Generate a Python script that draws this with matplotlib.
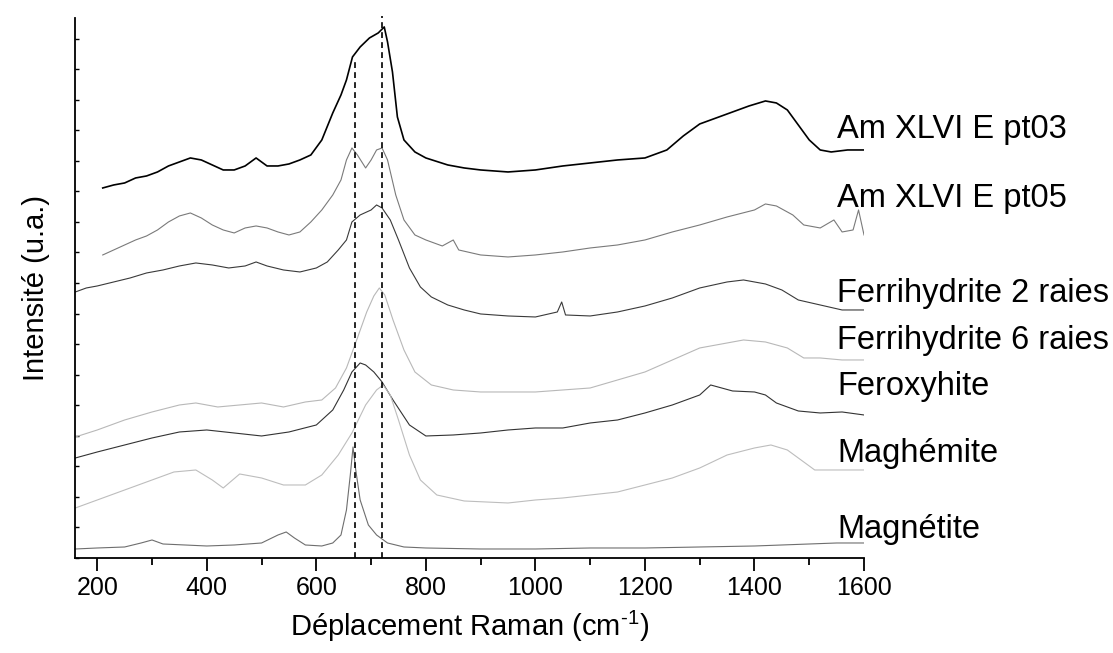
import matplotlib
matplotlib.use("Agg")
import matplotlib.pyplot as plt
from matplotlib.ticker import MultipleLocator

plt.rcParams['font.family'] = ['Liberation Sans', 'DejaVu Sans']
plt.rcParams['mathtext.fontset'] = 'custom'
plt.rcParams['mathtext.rm'] = 'Liberation Sans'
plt.rcParams['mathtext.it'] = 'Liberation Sans'
plt.rcParams['mathtext.default'] = 'regular'

# Spectra: Raman shift (cm-1) and intensity (arbitrary units, offset stacked)
pt03_x = [210, 230, 250, 270, 290, 310, 330, 350, 370, 390, 410, 430, 450, 470, 490, 510, 530, 550, 570, 590, 610, 630, 645, 655, 666, 680, 697, 713, 724, 730, 739, 748, 760, 780, 800, 840, 870, 900, 950, 1000, 1050, 1100, 1150, 1200, 1240, 1270, 1300, 1330, 1360, 1390, 1420, 1440, 1460, 1480, 1500, 1520, 1540, 1570, 1600]
pt03_y = [370, 373, 375, 380, 382, 386, 392, 396, 400, 398, 393, 388, 388, 392, 400, 392, 392, 394, 398, 403, 418, 445, 463, 478, 501, 511, 520, 525, 531, 516, 486, 441, 418, 406, 400, 393, 390, 388, 386, 388, 392, 395, 398, 400, 408, 422, 434, 440, 446, 452, 457, 455, 448, 433, 418, 408, 406, 408, 408]

pt05_x = [210, 230, 250, 270, 290, 310, 330, 350, 370, 390, 410, 430, 450, 470, 490, 510, 530, 550, 570, 590, 610, 630, 645, 655, 665, 675, 690, 700, 710, 720, 730, 745, 760, 780, 800, 830, 850, 860, 900, 950, 1000, 1050, 1100, 1150, 1200, 1250, 1300, 1350, 1400, 1420, 1440, 1470, 1490, 1520, 1545, 1560, 1580, 1590, 1600]
pt05_y = [303, 308, 313, 318, 322, 328, 336, 342, 345, 340, 333, 328, 325, 330, 332, 330, 326, 323, 326, 336, 348, 363, 378, 398, 410, 403, 390, 398, 408, 410, 398, 363, 338, 323, 318, 312, 318, 308, 303, 301, 303, 306, 310, 313, 318, 326, 333, 341, 348, 354, 352, 343, 333, 330, 338, 326, 328, 348, 323]

f2_x = [160, 180, 200, 230, 260, 290, 320, 350, 380, 410, 440, 470, 490, 510, 540, 570, 600, 620, 640, 655, 665, 680, 700, 710, 720, 735, 750, 770, 790, 810, 840, 870, 900, 950, 1000, 1040, 1048, 1055, 1100, 1150, 1200, 1250, 1300, 1350, 1380, 1420, 1450, 1480, 1520, 1560, 1600]
f2_y = [266, 270, 272, 276, 280, 285, 288, 292, 295, 293, 290, 292, 296, 292, 288, 286, 290, 296, 308, 318, 336, 343, 348, 353, 350, 338, 318, 290, 271, 261, 253, 248, 244, 242, 241, 246, 256, 243, 242, 246, 252, 260, 270, 276, 278, 274, 268, 258, 253, 248, 248]

f6_x = [160, 200, 250, 300, 350, 380, 420, 460, 500, 540, 580, 610, 635, 655, 675, 692, 705, 715, 725, 740, 760, 780, 810, 850, 900, 950, 1000, 1050, 1100, 1150, 1200, 1250, 1300, 1350, 1380, 1420, 1460, 1490, 1520, 1560, 1600]
f6_y = [121, 128, 138, 146, 153, 155, 151, 153, 155, 151, 156, 158, 170, 190, 220, 246, 262, 270, 263, 238, 208, 186, 173, 168, 166, 166, 166, 168, 170, 178, 186, 198, 210, 215, 218, 216, 210, 200, 200, 198, 198]

ferox_x = [160, 200, 250, 300, 350, 400, 450, 500, 550, 600, 630, 650, 665, 680, 690, 705, 720, 740, 770, 800, 850, 900, 950, 1000, 1050, 1100, 1150, 1200, 1250, 1300, 1320, 1360, 1400, 1420, 1440, 1480, 1520, 1560, 1600]
ferox_y = [100, 106, 113, 120, 126, 128, 125, 122, 126, 133, 148, 168, 186, 195, 193, 186, 176, 158, 133, 122, 123, 125, 128, 130, 130, 135, 138, 145, 153, 163, 173, 167, 166, 163, 155, 147, 145, 146, 143]

magh_x = [160, 200, 250, 300, 340, 380, 410, 430, 460, 500, 540, 580, 610, 640, 665, 690, 710, 722, 735, 750, 770, 790, 820, 870, 950, 1000, 1050, 1100, 1150, 1200, 1250, 1300, 1350, 1400, 1430, 1460, 1490, 1510, 1550, 1600]
magh_y = [50, 58, 68, 78, 86, 88, 78, 70, 84, 80, 73, 73, 83, 103, 125, 153, 168, 173, 163, 138, 103, 78, 63, 57, 55, 58, 60, 63, 66, 73, 80, 90, 103, 110, 113, 108, 96, 88, 88, 88]

magn_x = [160, 200, 250, 280, 300, 320, 400, 450, 500, 530, 545, 560, 580, 610, 630, 645, 655, 662, 667, 672, 680, 695, 710, 730, 760, 800, 900, 1000, 1100, 1200, 1300, 1400, 1500, 1550, 1600]
magn_y = [9, 10, 11, 15, 18, 14, 12, 13, 15, 23, 26, 20, 13, 12, 15, 23, 48, 83, 111, 88, 58, 33, 23, 15, 11, 10, 9, 9, 10, 10, 11, 12, 14, 15, 15]

series_names = ["Am XLVI E pt03", "Am XLVI E pt05", "Ferrihydrite 2 raies",
                "Ferrihydrite 6 raies", "Feroxyhite", "Maghémite", "Magnétite"]
label_y = [420, 351, 256, 209, 163, 96, 20]
label_x = 1551

ref_lines_x = [670, 720]
ref_lines_top = [496, 542]

series = [(pt03_x, pt03_y), (pt05_x, pt05_y), (f2_x, f2_y), (f6_x, f6_y),
          (ferox_x, ferox_y), (magh_x, magh_y), (magn_x, magn_y)]
colors = ["#000000", "#7a7a7a", "#3a3a3a", "#b8b8b8", "#333333", "#bdbdbd", "#6e6e6e"]
widths = [1.2, 0.8, 0.8, 0.8, 0.8, 0.8, 0.8]

fig = plt.figure(figsize=(11.13, 6.53), dpi=100)
ax = fig.add_axes([0.0677, 0.1455, 0.7086, 0.8270])

for (xs, ys), c, lw in zip(series, colors, widths):
    ax.plot(xs, ys, color=c, lw=lw)

for xv, top in zip(ref_lines_x, ref_lines_top):
    ax.plot([xv, xv], [0, top], color="black", lw=1.2, ls=(0, (3.5, 2.5)), clip_on=False)

for name, ly in zip(series_names, label_y):
    ax.text(label_x, ly, name, fontsize=23.5, va='baseline', ha='left', clip_on=False)

ax.set_xlim(160, 1600)
ax.set_ylim(0, 540)
ax.spines['top'].set_visible(False)
ax.spines['right'].set_visible(False)
for s in ['left', 'bottom']:
    ax.spines[s].set_linewidth(1.3)

ax.xaxis.set_major_locator(MultipleLocator(200))
ax.set_xticks([300, 500, 700, 900, 1100, 1300, 1500], minor=True)
ax.tick_params(axis='x', which='major', direction='out', length=9, width=1.3, labelsize=18, pad=4)
ax.tick_params(axis='x', which='minor', direction='out', length=5, width=1.3)
ax.yaxis.set_major_locator(MultipleLocator(30.55))
ax.tick_params(axis='y', which='major', direction='in', length=3, width=1.0, labelleft=False)

ax.set_xlabel(r"Déplacement Raman (cm$^{\text{-1}}$)", fontsize=21, labelpad=6)
ax.set_ylabel("Intensité (u.a.)", fontsize=21, labelpad=18)

fig.savefig("out.png", dpi=100)
